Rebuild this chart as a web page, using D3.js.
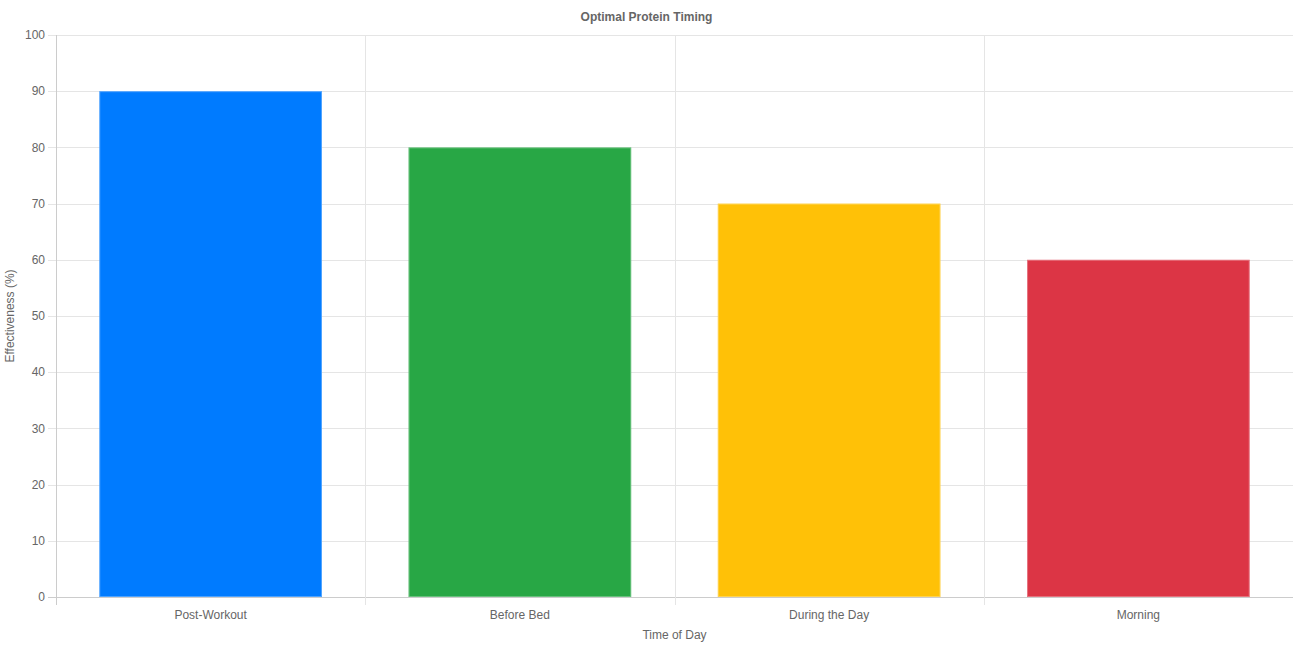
<!DOCTYPE html>
<html>
<head>
<meta charset="utf-8">
<script src="https://cdn.jsdelivr.net/npm/d3@7"></script>
<style>
  body { margin: 0; background: #fff; }
  svg { display: block; font-family: "Helvetica Neue", Helvetica, Arial, "Liberation Sans", sans-serif; }
</style>
</head>
<body>
<div id="chart"></div>
<script>
// data
const categories = ['Post-Workout', 'Before Bed', 'During the Day', 'Morning'];
const effectiveness = [90, 80, 70, 60];
const barColors = ['#007bff', '#28a745', '#ffc107', '#dc3545'];
const yTicks = [0, 10, 20, 30, 40, 50, 60, 70, 80, 90, 100];

const width = 1296, height = 647;
const margin = { top: 35, right: 3, bottom: 50, left: 56 };

const svg = d3.select('#chart')
    .append('svg')
    .attr('width', width)
    .attr('height', height);

const x = d3.scaleBand()
    .domain(categories)
    .range([margin.left, width - margin.right]);

const y = d3.scaleLinear()
    .domain([0, 100])
    .range([height - margin.bottom, margin.top]);

// grid lines
svg.append('g')
    .selectAll('line')
    .data(yTicks)
    .enter()
    .append('line')
    .attr('x1', margin.left - 8)
    .attr('x2', width - margin.right)
    .attr('y1', d => Math.round(y(d)) + 0.5)
    .attr('y2', d => Math.round(y(d)) + 0.5)
    .attr('stroke', d => d === 0 ? '#ccc' : '#e5e5e5');

svg.append('g')
    .selectAll('line')
    .data(categories)
    .enter()
    .append('line')
    .attr('x1', d => Math.round(x(d)) + 0.5)
    .attr('x2', d => Math.round(x(d)) + 0.5)
    .attr('y1', margin.top)
    .attr('y2', height - margin.bottom + 8)
    .attr('stroke', (d, i) => i === 0 ? '#ccc' : '#e5e5e5');

// bars (Chart.js style: 0.8 category, 0.9 bar)
const barW = x.bandwidth() * 0.72;
svg.append('g')
    .selectAll('rect')
    .data(categories)
    .enter()
    .append('rect')
    .attr('x', d => x(d) + (x.bandwidth() - barW) / 2)
    .attr('y', (d, i) => y(effectiveness[i]))
    .attr('width', barW)
    .attr('height', (d, i) => y(0) - y(effectiveness[i]))
    .attr('fill', (d, i) => barColors[i]);

// bar borders, lighter tint
svg.append('g')
    .selectAll('rect')
    .data(categories)
    .enter()
    .append('rect')
    .attr('x', d => x(d) + (x.bandwidth() - barW) / 2 + 0.5)
    .attr('y', (d, i) => y(effectiveness[i]) + 0.5)
    .attr('width', barW - 1)
    .attr('height', (d, i) => y(0) - y(effectiveness[i]) - 1)
    .attr('fill', 'none')
    .attr('stroke', '#fff')
    .attr('stroke-opacity', 0.3);

// y tick labels
svg.append('g')
    .selectAll('text')
    .data(yTicks)
    .enter()
    .append('text')
    .attr('x', margin.left - 11)
    .attr('y', d => y(d))
    .attr('dy', '0.35em')
    .attr('text-anchor', 'end')
    .attr('fill', '#666')
    .style('font-size', '12px')
    .text(d => d);

// x tick labels
svg.append('g')
    .selectAll('text')
    .data(categories)
    .enter()
    .append('text')
    .attr('x', d => x(d) + x.bandwidth() / 2)
    .attr('y', height - margin.bottom + 22)
    .attr('text-anchor', 'middle')
    .attr('fill', '#666')
    .style('font-size', '12px')
    .text(d => d);

// axis titles
svg.append('text')
    .attr('x', (margin.left + width - margin.right) / 2)
    .attr('y', height - margin.bottom + 42)
    .attr('text-anchor', 'middle')
    .attr('fill', '#666')
    .style('font-size', '12px')
    .text('Time of Day');

svg.append('text')
    .attr('transform', `translate(14,${(margin.top + height - margin.bottom) / 2}) rotate(-90)`)
    .attr('text-anchor', 'middle')
    .attr('fill', '#666')
    .style('font-size', '12px')
    .text('Effectiveness (%)');

// title
svg.append('text')
    .attr('x', (margin.left + width - margin.right) / 2 - 28)
    .attr('y', 21)
    .attr('text-anchor', 'middle')
    .attr('fill', '#666')
    .style('font-size', '12px')
    .style('font-weight', 'bold')
    .text('Optimal Protein Timing');
</script>
</body>
</html>
